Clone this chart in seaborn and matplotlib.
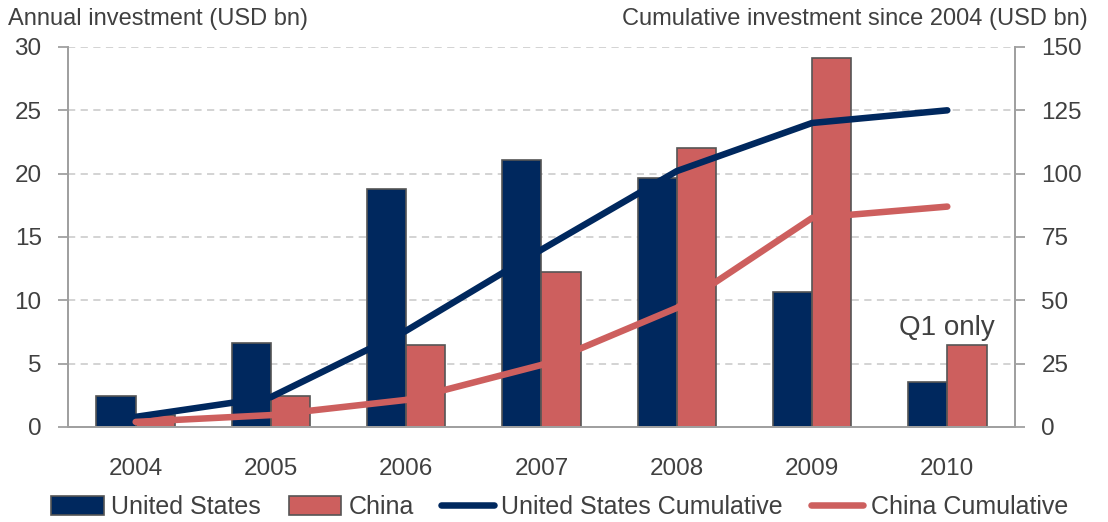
import numpy as np
import pandas as pd
import matplotlib
matplotlib.use("Agg")
import matplotlib.pyplot as plt
import seaborn as sns
from matplotlib.patches import Patch
from matplotlib.lines import Line2D

years = ["2004", "2005", "2006", "2007", "2008", "2009", "2010"]
us_annual = [2.45, 6.6, 18.8, 21.1, 19.65, 10.65, 3.55]
china_annual = [0.95, 2.45, 6.5, 12.2, 22.0, 29.1, 6.5]
us_cumulative = [4.0, 11.8, 38.0, 70.0, 101.0, 120.0, 125.0]
china_cumulative = [2.0, 4.7, 10.7, 24.5, 47.0, 82.5, 87.0]
series = ["United States", "China"]

NAVY = "#00285E"
RED = "#CD5F5E"
GRID = "#D0D0D0"
AXIS = "#A0A0A0"
TEXT = "#404040"

sns.set_theme(style="white")
plt.rcParams["font.family"] = ["Liberation Sans", "DejaVu Sans"]

annual = pd.DataFrame({
    "year": years * 2,
    "value": us_annual + china_annual,
    "series": [series[0]] * len(years) + [series[1]] * len(years),
})
cumulative = pd.DataFrame({
    "pos": list(range(len(years))) * 2,
    "value": us_cumulative + china_cumulative,
    "series": [series[0]] * len(years) + [series[1]] * len(years),
})

fig = plt.figure(figsize=(11.08, 5.22), dpi=100)
ax = fig.add_axes([0.0614, 0.182, 0.8546, 0.728])

sns.barplot(data=annual, x="year", y="value", hue="series", order=years,
            hue_order=series, palette=[NAVY, RED], width=0.58, gap=0,
            edgecolor="#555555", linewidth=1.2, saturation=1, legend=False,
            ax=ax, zorder=2)

ax.set_xlim(-0.5, len(years) - 0.5)
ax.set_ylim(0, 30)
ax.set_yticks(np.arange(0, 31, 5))
ax.set_xlabel("")
ax.set_ylabel("")
ax.yaxis.grid(True, color=GRID, linestyle=(0, (4, 3)), linewidth=1.3)
ax.set_axisbelow(True)

ax2 = ax.twinx()
sns.lineplot(data=cumulative, x="pos", y="value", hue="series",
             hue_order=series, palette=[NAVY, RED], linewidth=4.7,
             legend=False, ax=ax2, zorder=3)
for ln in ax2.get_lines():
    ln.set_solid_capstyle("round")
    ln.set_solid_joinstyle("round")
ax2.set_ylim(0, 150)
ax2.set_yticks(np.arange(0, 151, 25))
ax2.set_xlim(-0.5, len(years) - 0.5)
ax2.set_ylabel("")
ax2.set_xlabel("")
ax2.grid(False)

# x ticks sit on the category boundaries, labels centred under each year
ax.set_xticks(np.arange(len(years)))
ax.set_xticklabels(years)
ax.set_xticks(np.arange(-0.5, len(years), 1), minor=True)
ax.tick_params(axis="x", which="major", length=0, pad=22, labelsize=17.5, labelcolor=TEXT)
ax.tick_params(axis="x", which="minor", length=7, width=1.3, color=AXIS, direction="out")
ax.tick_params(axis="y", length=7, width=1.3, color=AXIS, direction="out",
               labelsize=17.5, labelcolor=TEXT, pad=12, left=True)
ax2.tick_params(axis="y", length=7, width=1.3, color=AXIS, direction="out",
                labelsize=17.5, labelcolor=TEXT, pad=12, right=True)

for a in (ax, ax2):
    a.spines["top"].set_visible(False)
    for side in ("left", "right", "bottom"):
        a.spines[side].set_color(AXIS)
        a.spines[side].set_linewidth(1.3)

ax2.text(6, 39, "Q1 only", ha="center", va="center", fontsize=20, color=TEXT)

fig.text(0.007, 0.963, "Annual investment (USD bn)", ha="left", va="center",
         fontsize=17, color=TEXT)
fig.text(0.982, 0.963, "Cumulative investment since 2004 (USD bn)", ha="right",
         va="center", fontsize=17, color=TEXT)

handles = [
    Patch(facecolor=NAVY, edgecolor="#555555", linewidth=1.2),
    Patch(facecolor=RED, edgecolor="#555555", linewidth=1.2),
    Line2D([0], [0], color=NAVY, linewidth=4.7, solid_capstyle="round"),
    Line2D([0], [0], color=RED, linewidth=4.7, solid_capstyle="round"),
]
labels = ["United States", "China", "United States Cumulative", "China Cumulative"]
fig.legend(handles, labels, loc="center", bbox_to_anchor=(0.505, 0.028), ncol=4,
           frameon=False, fontsize=18, handlelength=2.1, handleheight=0.8,
           columnspacing=1.1, handletextpad=0.3, labelcolor=TEXT)

fig.savefig("out.png", dpi=100)
